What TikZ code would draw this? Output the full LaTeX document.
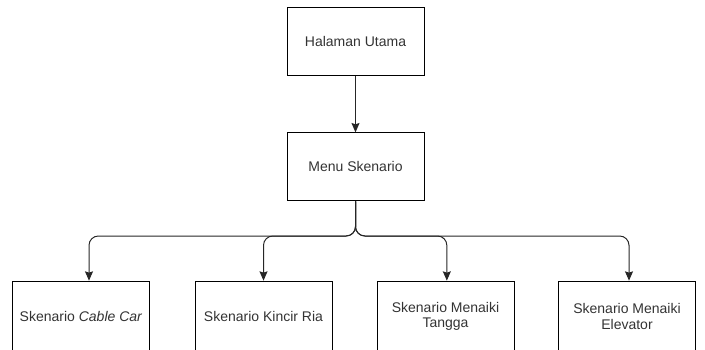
\documentclass[tikz,border=0pt]{standalone}
\usepackage{fontspec}
\setmainfont{Liberation Sans}
\usetikzlibrary{arrows.meta}
\begin{document}
\begin{tikzpicture}[x=0.75pt, y=-0.75pt, node distance=94pt,
  main/.style = {draw, rectangle, line width=0.75pt, minimum width=102.75pt, minimum height=51pt, align=center, text=black!80, font=\fontsize{10.5}{11.5}\selectfont},
  leaf/.style = {main, minimum height=53pt},
  link/.style = {draw=black!85, line width=0.75pt, rounded corners=7pt, -{Stealth[length=7pt, width=6pt, inset=1pt]}}]
\useasboundingbox (0,0) rectangle (705,349);
\node[main] (1) at (355.5,41.5) {Halaman Utama};
\node[main] (2) [below of=1] {Menu Skenario};
\node[leaf] (3) at (81,316.5) {Skenario \textit{Cable Car}};
\node[leaf] (4) at (263.5,316.5) {Skenario Kincir Ria};
\node[leaf] (5) at (445.5,316.5) {Skenario Menaiki\\Tangga};
\node[leaf] (6) at (627,316.5) {Skenario Menaiki\\Elevator};
\coordinate (b) at (355.5,236);

\draw[link] (1) -- (2);
\draw[link] (2.south) -- (b) -| ([xshift=6pt]3.north);
\draw[link] (2.south) -- (b) -| (4.north);
\draw[link] (2.south) -- (b) -| ([xshift=1pt]5.north);
\draw[link] (2.south) -- (b) -| ([xshift=1.5pt]6.north);
\end{tikzpicture}
\end{document}
